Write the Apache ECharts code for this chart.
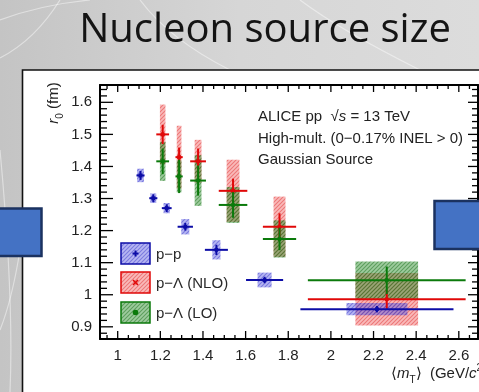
<!DOCTYPE html>
<html>
<head>
<meta charset="utf-8">
<script src="https://cdn.jsdelivr.net/npm/echarts@6/dist/echarts.min.js"></script>
<style>
html, body { margin: 0; padding: 0; width: 479px; height: 392px; overflow: hidden; background: #d2d2d2; }
#chart { width: 479px; height: 392px; }
</style>
</head>
<body>
<div id="chart"></div>
<script>
// Source radius r0 (fm) versus mean transverse mass <mT> (GeV/c^2)

// p–p
const ppMt     = [1.107, 1.167, 1.230, 1.317, 1.463, 1.689, 2.216];
const ppR      = [1.372, 1.301, 1.270, 1.212, 1.140, 1.046, 0.955];
const ppMtErr  = [0.019, 0.019, 0.023, 0.036, 0.054, 0.087, 0.359];
const ppRErr   = [0.014, 0.012, 0.012, 0.012, 0.016, 0.010, 0.010];
const ppSysMt  = [0.016, 0.014, 0.015, 0.019, 0.019, 0.033, 0.143];
const ppSysR   = [0.021, 0.015, 0.016, 0.024, 0.030, 0.023, 0.019];

// p–Λ (NLO)
const nloMt    = [1.211, 1.288, 1.377, 1.541, 1.759, 2.262];
const nloR     = [1.500, 1.429, 1.416, 1.324, 1.212, 0.986];
const nloMtErr = [0.030, 0.017, 0.037, 0.067, 0.078, 0.370];
const nloRErr  = [0.030, 0.030, 0.040, 0.038, 0.042, 0.030];
const nloSysMt = [0.013, 0.011, 0.016, 0.030, 0.028, 0.147];
const nloSysR  = [0.093, 0.098, 0.067, 0.097, 0.094, 0.082];

// p–Λ (LO)
const loMt     = [1.211, 1.288, 1.377, 1.541, 1.759, 2.262];
const loR      = [1.416, 1.369, 1.356, 1.280, 1.174, 1.045];
const loMtErr  = [0.030, 0.017, 0.037, 0.067, 0.078, 0.370];
const loRErr   = [0.040, 0.052, 0.047, 0.040, 0.035, 0.043];
const loSysMt  = [0.013, 0.011, 0.016, 0.030, 0.028, 0.147];
const loSysR   = [0.061, 0.050, 0.079, 0.056, 0.058, 0.059];

// axis tick labels
const xTickLabels = [1, 1.2, 1.4, 1.6, 1.8, 2, 2.2, 2.4, 2.6];
const yTickLabels = [0.9, 1, 1.1, 1.2, 1.3, 1.4, 1.5, 1.6];

const X_MIN = 0.917, X_MAX = 2.69;
const Y_MIN = 0.862, Y_MAX = 1.654;

const FONT = '"Liberation Sans", Arial, Helvetica, sans-serif';
const COL_PP = '#0c0ca6', COL_NLO = '#e00808', COL_LO = '#0b7a0b';

// diagonal hatch fill used for systematic boxes
function hatch(base, line) {
  const c = document.createElement('canvas');
  c.width = 4; c.height = 4;
  const g = c.getContext('2d');
  g.fillStyle = base; g.fillRect(0, 0, 4, 4);
  g.strokeStyle = line; g.lineWidth = 1.1;
  g.beginPath();
  g.moveTo(-1, 5); g.lineTo(5, -1);
  g.moveTo(-1, 1); g.lineTo(1, -1);
  g.moveTo(3, 5); g.lineTo(5, 3);
  g.stroke();
  return { image: c, repeat: 'repeat' };
}
const FILL_PP  = hatch('rgba(80,80,225,0.42)', 'rgba(50,50,200,0.45)');
const FILL_NLO = hatch('rgba(240,90,90,0.42)', 'rgba(225,40,40,0.45)');
const FILL_LO  = hatch('rgba(40,140,40,0.45)', 'rgba(15,105,15,0.45)');

function rows(mt, r, mtErr, rErr, sysMt, sysR) {
  return mt.map((x, i) => [x, r[i], mtErr[i], rErr[i], sysMt[i], sysR[i]]);
}

function boxSeries(name, data, fill) {
  return {
    type: 'custom', name: name + ' syst', z: 2, silent: true,
    data: data,
    encode: { x: 0, y: 1 },
    renderItem: function (params, api) {
      const x = api.value(0), y = api.value(1), sx = api.value(4), sy = api.value(5);
      const a = api.coord([x - sx, y + sy]);
      const b = api.coord([x + sx, y - sy]);
      return { type: 'rect', shape: { x: a[0], y: a[1], width: b[0] - a[0], height: b[1] - a[1] },
               style: { fill: fill } };
    }
  };
}

function barSeries(name, data, color) {
  return {
    type: 'custom', name: name, z: 4, silent: true,
    data: data,
    encode: { x: 0, y: 1 },
    renderItem: function (params, api) {
      const x = api.value(0), y = api.value(1), ex = api.value(2), ey = api.value(3);
      const c = api.coord([x, y]);
      const l = api.coord([x - ex, y]), r = api.coord([x + ex, y]);
      const t = api.coord([x, y + ey]), b = api.coord([x, y - ey]);
      return {
        type: 'group',
        children: [
          { type: 'line', shape: { x1: l[0], y1: c[1], x2: r[0], y2: c[1] }, style: { stroke: color, lineWidth: 2 } },
          { type: 'line', shape: { x1: c[0], y1: t[1], x2: c[0], y2: b[1] }, style: { stroke: color, lineWidth: 2 } },
          { type: 'circle', shape: { cx: c[0], cy: c[1], r: 2.3 }, style: { fill: color } }
        ]
      };
    }
  };
}

// inward ticks on all four frame sides
const tickData = [];
for (let i = 0; i <= 34; i++) {
  const v = +(0.95 + i * 0.05).toFixed(2);
  const major = xTickLabels.some(t => Math.abs(t - v) < 1e-6);
  tickData.push([v, 0, major ? 1 : 0]);
}
for (let i = 0; i <= 38; i++) {
  const v = +(0.88 + i * 0.02).toFixed(2);
  const major = yTickLabels.some(t => Math.abs(t - v) < 1e-6);
  tickData.push([v, 1, major ? 1 : 0]);
}
const tickSeries = {
  type: 'custom', name: 'ticks', z: 5, silent: true,
  data: tickData,
  encode: { x: 0 },
  renderItem: function (params, api) {
    const v = api.value(0), isY = api.value(1), major = api.value(2);
    const cs = params.coordSys;
    const st = { stroke: '#000', lineWidth: 1.3 };
    if (!isY) {
      const px = api.coord([v, Y_MIN])[0];
      const lb = major ? 8 : 4, lt = major ? 7 : 4;
      return { type: 'group', children: [
        { type: 'line', shape: { x1: px, y1: cs.y + cs.height, x2: px, y2: cs.y + cs.height - lb }, style: st },
        { type: 'line', shape: { x1: px, y1: cs.y, x2: px, y2: cs.y + lt }, style: st }
      ]};
    }
    const py = api.coord([X_MIN, v])[1];
    const ll = major ? 13 : 7, lr = major ? 10 : 6;
    return { type: 'group', children: [
      { type: 'line', shape: { x1: cs.x, y1: py, x2: cs.x + ll, y2: py }, style: st },
      { type: 'line', shape: { x1: cs.x + cs.width, y1: py, x2: cs.x + cs.width - lr, y2: py }, style: st }
    ]};
  }
};

function legendItem(y, fill, color, label, marker) {
  const cx = 135.5, cy = y + 10.5;
  let m;
  if (marker === 'plus') {
    m = { type: 'group', children: [
      { type: 'line', shape: { x1: cx - 3, y1: cy, x2: cx + 3, y2: cy }, style: { stroke: color, lineWidth: 2 } },
      { type: 'line', shape: { x1: cx, y1: cy - 3, x2: cx, y2: cy + 3 }, style: { stroke: color, lineWidth: 2 } }
    ]};
  } else if (marker === 'cross') {
    m = { type: 'group', children: [
      { type: 'line', shape: { x1: cx - 2.5, y1: cy - 2.5, x2: cx + 2.5, y2: cy + 2.5 }, style: { stroke: color, lineWidth: 1.6 } },
      { type: 'line', shape: { x1: cx - 2.5, y1: cy + 2.5, x2: cx + 2.5, y2: cy - 2.5 }, style: { stroke: color, lineWidth: 1.6 } }
    ]};
  } else {
    m = { type: 'circle', shape: { cx: cx, cy: cy, r: 2.8 }, style: { fill: color } };
  }
  return [
    { type: 'rect', shape: { x: 121, y: y, width: 29, height: 21 }, style: { fill: fill, stroke: color, lineWidth: 1.5 } },
    m,
    { type: 'text', x: 156, y: cy + 1, style: { text: label, font: '15px ' + FONT, fill: '#2a2a2a', verticalAlign: 'middle' } }
  ];
}

// faint streaks in the slide backdrop
const streaks = [
  [[0, 20], [40, 5], [90, 0]],
  [[0, 58], [35, 40], [60, 0]],
  [[10, 392], [14, 300], [0, 150]],
  [[0, 330], [12, 300], [20, 250]],
  [[140, 0], [170, 40], [230, 70]],
  [[300, 0], [340, 30], [420, 70]]
].map(p => ({ type: 'bezierCurve', z: -15,
  shape: { x1: p[0][0], y1: p[0][1], cpx1: p[1][0], cpy1: p[1][1], x2: p[2][0], y2: p[2][1] },
  style: { stroke: 'rgba(255,255,255,0.45)', lineWidth: 1.2, fill: null } }));

const chart = echarts.init(document.getElementById('chart'), null, { renderer: 'canvas' });

const graphics = [
  // slide background and panel
  { type: 'rect', z: -20, shape: { x: 0, y: 0, width: 479, height: 392 },
    style: { fill: new echarts.graphic.LinearGradient(0, 0, 1, 0, [
      { offset: 0, color: '#c4c4c4' }, { offset: 0.5, color: '#d6d6d6' }, { offset: 1, color: '#dcdcdc' }]) } }
].concat(streaks, [
  { type: 'text', z: -10, x: 265, y: 31,
    style: { text: 'Nucleon source size', font: '40px "Open Sans", sans-serif', fill: '#141414',
             align: 'center', verticalAlign: 'middle' } },
  { type: 'rect', z: -10, shape: { x: 22.5, y: 70, width: 470, height: 340 },
    style: { fill: '#ffffff', stroke: '#111', lineWidth: 1.6 } },
  // annotations
  { type: 'text', z: 10, x: 258, y: 117,
    style: { text: '{n|ALICE pp  √}{i|s}{n| = 13 TeV}', verticalAlign: 'middle',
             rich: { n: { font: '15px ' + FONT, fill: '#222' }, i: { font: 'italic 15px ' + FONT, fill: '#222' } } } },
  { type: 'text', z: 10, x: 258, y: 138.5,
    style: { text: 'High-mult. (0−0.17% INEL > 0)', font: '15px ' + FONT, fill: '#222', verticalAlign: 'middle' } },
  { type: 'text', z: 10, x: 258, y: 159.5,
    style: { text: 'Gaussian Source', font: '15px ' + FONT, fill: '#222', verticalAlign: 'middle' } },
  // axis titles
  { type: 'text', z: 10, x: 391, y: 374,
    style: { text: '{n|⟨}{i|m}{s|T}{n|⟩  (GeV/}{i|c}{p|2}{n|)}', verticalAlign: 'middle',
             rich: {
               n: { font: '15px ' + FONT, fill: '#222', lineHeight: 22 },
               i: { font: 'italic 15px ' + FONT, fill: '#222', lineHeight: 22 },
               s: { font: '10px ' + FONT, fill: '#222', lineHeight: 10, verticalAlign: 'bottom' },
               p: { font: '10px ' + FONT, fill: '#222', lineHeight: 10, verticalAlign: 'top' }
             } } },
  { type: 'text', z: 10, x: 54, y: 103, rotation: Math.PI / 2,
    style: { text: '{i|r}{s|0}{n| (fm)}', align: 'center', verticalAlign: 'middle',
             rich: {
               n: { font: '15px ' + FONT, fill: '#222', lineHeight: 22 },
               i: { font: 'italic 15px ' + FONT, fill: '#222', lineHeight: 22 },
               s: { font: '10px ' + FONT, fill: '#222', lineHeight: 10, verticalAlign: 'bottom' }
             } } },
  // slide shapes on either side
  { type: 'rect', z: 100, shape: { x: -3, y: 208.5, width: 44.5, height: 47.5 },
    style: { fill: '#4472c4', stroke: '#1b3260', lineWidth: 2.5 } },
  { type: 'rect', z: 100, shape: { x: 434.5, y: 201, width: 50, height: 48 },
    style: { fill: '#4472c4', stroke: '#1b3260', lineWidth: 2.5 } }
], 
  legendItem(243, FILL_PP, COL_PP, 'p−p', 'plus'),
  legendItem(272, FILL_NLO, COL_NLO, 'p−Λ (NLO)', 'cross'),
  legendItem(302, FILL_LO, COL_LO, 'p−Λ (LO)', 'dot')
);

const axisLineStyle = { show: true, onZero: false, lineStyle: { color: '#000', width: 2 } };

chart.setOption({
  animation: false,
  grid: { left: 100, right: 1, top: 85, bottom: 53, containLabel: false },
  xAxis: [
    { type: 'value', min: X_MIN, max: X_MAX, position: 'bottom',
      axisLine: axisLineStyle, axisTick: { show: false }, splitLine: { show: false },
      axisLabel: { customValues: xTickLabels, margin: 9, fontFamily: FONT, fontSize: 15, color: '#222' } },
    { type: 'value', min: X_MIN, max: X_MAX, position: 'top',
      axisLine: axisLineStyle, axisTick: { show: false }, splitLine: { show: false }, axisLabel: { show: false } }
  ],
  yAxis: [
    { type: 'value', min: Y_MIN, max: Y_MAX, position: 'left',
      axisLine: axisLineStyle, axisTick: { show: false }, splitLine: { show: false },
      axisLabel: { customValues: yTickLabels, margin: 8, fontFamily: FONT, fontSize: 15, color: '#222' } },
    { type: 'value', min: Y_MIN, max: Y_MAX, position: 'right',
      axisLine: axisLineStyle, axisTick: { show: false }, splitLine: { show: false }, axisLabel: { show: false } }
  ],
  graphic: graphics,
  series: [
    boxSeries('p−Λ (NLO)', rows(nloMt, nloR, nloMtErr, nloRErr, nloSysMt, nloSysR), FILL_NLO),
    boxSeries('p−Λ (LO)', rows(loMt, loR, loMtErr, loRErr, loSysMt, loSysR), FILL_LO),
    boxSeries('p−p', rows(ppMt, ppR, ppMtErr, ppRErr, ppSysMt, ppSysR), FILL_PP),
    barSeries('p−Λ (NLO)', rows(nloMt, nloR, nloMtErr, nloRErr, nloSysMt, nloSysR), COL_NLO),
    barSeries('p−Λ (LO)', rows(loMt, loR, loMtErr, loRErr, loSysMt, loSysR), COL_LO),
    barSeries('p−p', rows(ppMt, ppR, ppMtErr, ppRErr, ppSysMt, ppSysR), COL_PP),
    tickSeries
  ]
});
</script>
</body>
</html>
